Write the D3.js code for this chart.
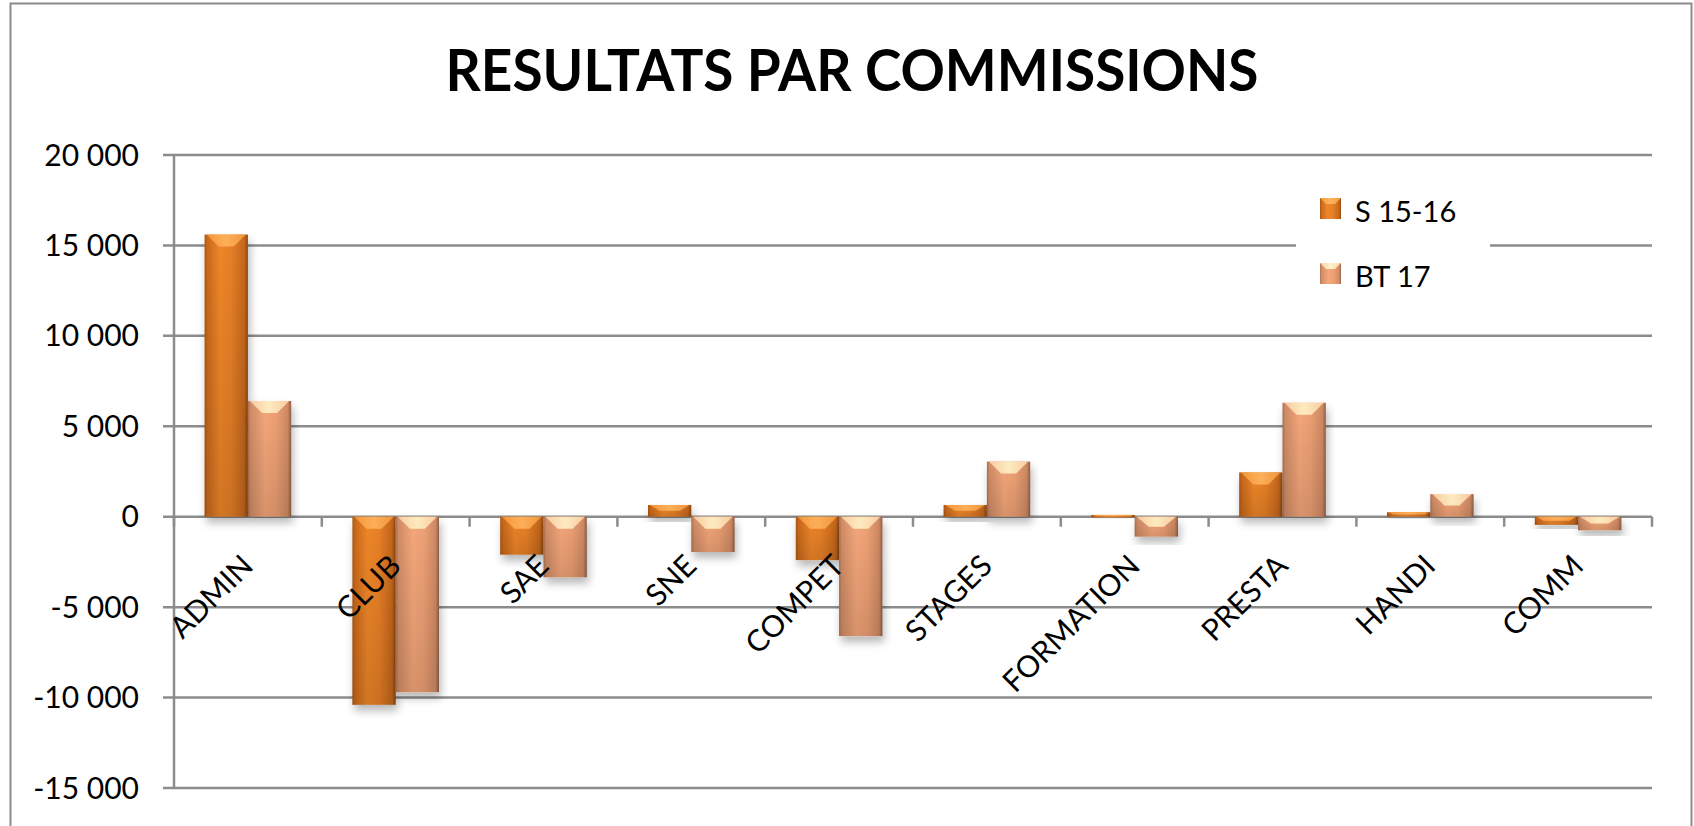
<!DOCTYPE html>
<html>
<head>
<meta charset="utf-8">
<script src="https://cdn.jsdelivr.net/npm/d3@7"></script>
<style>
  html, body { margin: 0; padding: 0; background: #fff; }
  svg { display: block; }
  text { font-family: Lato, "Noto Sans", sans-serif; fill: #000; }
</style>
</head>
<body>
<svg id="chart" width="1694" height="826"></svg>
<script>
// ---- data ----
const categories = ["ADMIN", "CLUB", "SAE", "SNE", "COMPET", "STAGES", "FORMATION", "PRESTA", "HANDI", "COMM"];
const seriesNames = ["S 15-16", "BT 17"];
const s1516 = [15600, -10400, -2100, 650, -2400, 650, 100, 2450, 250, -450];
const bt17 = [6400, -9700, -3350, -1950, -6600, 3050, -1100, 6300, 1250, -750];
const yTicks = [-15000, -10000, -5000, 0, 5000, 10000, 15000, 20000];
const title = "RESULTATS PAR COMMISSIONS";

// ---- setup ----
const svg = d3.select("#chart");
const W = 1694, H = 826;
const plot = { left: 174, right: 1652, top: 155, bottom: 788 };

const locale = d3.formatLocale({ decimal: ",", thousands: " ", grouping: [3], currency: ["", ""], minus: "-" });
const fmt = locale.format(",d");

const x = d3.scaleBand().domain(categories).range([plot.left, plot.right]).padding(0);
const y = d3.scaleLinear().domain([-15000, 20000]).range([plot.bottom, plot.top]);

const defs = svg.append("defs");

function hGrad(id, stops) {
  const g = defs.append("linearGradient").attr("id", id).attr("x1", "0").attr("x2", "1").attr("y1", "0").attr("y2", "0");
  stops.forEach(s => g.append("stop").attr("offset", s[0]).attr("stop-color", s[1]));
}
hGrad("gOrange", [["0%", "#a8540f"], ["6%", "#c9681b"], ["35%", "#ee8629"], ["60%", "#e88027"], ["92%", "#c4661c"], ["100%", "#8e460c"]]);
hGrad("gPeach", [["0%", "#a86e50"], ["6%", "#d08c66"], ["40%", "#f5a77a"], ["65%", "#eea074"], ["92%", "#cf8a64"], ["100%", "#8f5d44"]]);
hGrad("gOrangeTop", [["0%", "#f59a3e"], ["50%", "#ffb45e"], ["100%", "#f59a3e"]]);
hGrad("gPeachTop", [["0%", "#fcd2a8"], ["50%", "#fff2c8"], ["100%", "#fcd2a8"]]);
const vg = defs.append("linearGradient").attr("id", "gShade").attr("x1", "0").attr("x2", "0").attr("y1", "0").attr("y2", "1");
vg.append("stop").attr("offset", "0%").attr("stop-color", "#000").attr("stop-opacity", 0);
vg.append("stop").attr("offset", "100%").attr("stop-color", "#000").attr("stop-opacity", 0.12);

const f = defs.append("filter").attr("id", "shadow").attr("x", "-20%").attr("y", "-20%").attr("width", "140%").attr("height", "160%");
f.append("feDropShadow").attr("dx", 2).attr("dy", 6).attr("stdDeviation", 4).attr("flood-color", "#000").attr("flood-opacity", 0.28);

// background
svg.append("rect").attr("width", W).attr("height", H).attr("fill", "#fff");
// outer border
svg.append("rect").attr("x", 10.5).attr("y", 3.5).attr("width", 1681).attr("height", 840)
  .attr("fill", "none").attr("stroke", "#8c8c8c").attr("stroke-width", 2);

// title
svg.append("text").attr("x", 852).attr("y", 91).attr("text-anchor", "middle")
  .attr("font-weight", "bold").attr("font-size", 58)
  .attr("textLength", 813).attr("lengthAdjust", "spacingAndGlyphs")
  .text(title);

// gridlines + y ticks
const gridColor = "#8c8c8c";
svg.append("g").selectAll("line").data(yTicks).join("line")
  .attr("x1", plot.left - 11).attr("x2", plot.right)
  .attr("y1", d => y(d)).attr("y2", d => y(d))
  .attr("stroke", gridColor).attr("stroke-width", 2.5);

svg.append("g").selectAll("text").data(yTicks).join("text")
  .attr("x", 139).attr("y", d => y(d)).attr("dy", "0.35em")
  .attr("text-anchor", "end").attr("font-size", 30)
  .text(d => fmt(d));

// y axis line
svg.append("line").attr("x1", plot.left).attr("x2", plot.left).attr("y1", plot.top).attr("y2", plot.bottom)
  .attr("stroke", gridColor).attr("stroke-width", 2.5);

// legend background (covers grid)
svg.append("rect").attr("x", 1296).attr("y", 172).attr("width", 194).attr("height", 138).attr("fill", "#fff");

// category ticks on zero line
const bounds = categories.map(c => x(c)).concat([plot.right]);
svg.append("g").selectAll("line").data(bounds).join("line")
  .attr("x1", d => d).attr("x2", d => d)
  .attr("y1", y(0)).attr("y2", y(0) + 10)
  .attr("stroke", gridColor).attr("stroke-width", 2.5);

// bars
const bw = x.bandwidth() * 0.293;
const off = x.bandwidth() * 0.207;
const series = [
  { name: seriesNames[0], values: s1516, fill: "url(#gOrange)", top: "url(#gOrangeTop)", idx: 0 },
  { name: seriesNames[1], values: bt17, fill: "url(#gPeach)", top: "url(#gPeachTop)", idx: 1 }
];

function drawBar(g, bx, by, w, h, s) {
  const grp = g.append("g").attr("filter", "url(#shadow)");
  grp.append("rect").attr("x", bx).attr("y", by).attr("width", w).attr("height", h).attr("fill", s.fill);
  grp.append("rect").attr("x", bx).attr("y", by).attr("width", w).attr("height", h).attr("fill", "url(#gShade)");
  const b = Math.min(12, h / 2);
  const inset = Math.min(w * 0.28, b * 1.6);
  grp.append("polygon")
    .attr("points", [[bx + 2, by], [bx + w - 2, by], [bx + w - 2 - inset, by + b], [bx + 2 + inset, by + b]].map(p => p.join(",")).join(" "))
    .attr("fill", s.top).attr("opacity", 0.9);
}

const barsG = svg.append("g");
series.forEach(s => {
  categories.forEach((c, i) => {
    const v = s.values[i];
    const bx = x(c) + off + s.idx * bw;
    const y0 = y(Math.max(0, v));
    const h = Math.max(2.5, Math.abs(y(v) - y(0)));
    drawBar(barsG, bx, y0, bw, h, s);
  });
});

// category labels
svg.append("g").selectAll("text").data(categories).join("text")
  .attr("text-anchor", "end").attr("font-size", 30)
  .attr("transform", d => `translate(${x(d) + x.bandwidth() / 2 + 7},${y(0) + 51}) rotate(-45)`)
  .text(d => d);

// legend
const legend = svg.append("g");
series.forEach((s, i) => {
  const ly = 198 + i * 65;
  legend.append("rect").attr("x", 1320).attr("y", ly).attr("width", 21).attr("height", 21).attr("fill", s.fill);
  legend.append("polygon")
    .attr("points", [[1320, ly], [1341, ly], [1335, ly + 6], [1326, ly + 6]].map(p => p.join(",")).join(" "))
    .attr("fill", s.top);
  legend.append("text").attr("x", 1355).attr("y", ly + 24).attr("font-size", 29).text(s.name);
});
</script>
</body>
</html>
